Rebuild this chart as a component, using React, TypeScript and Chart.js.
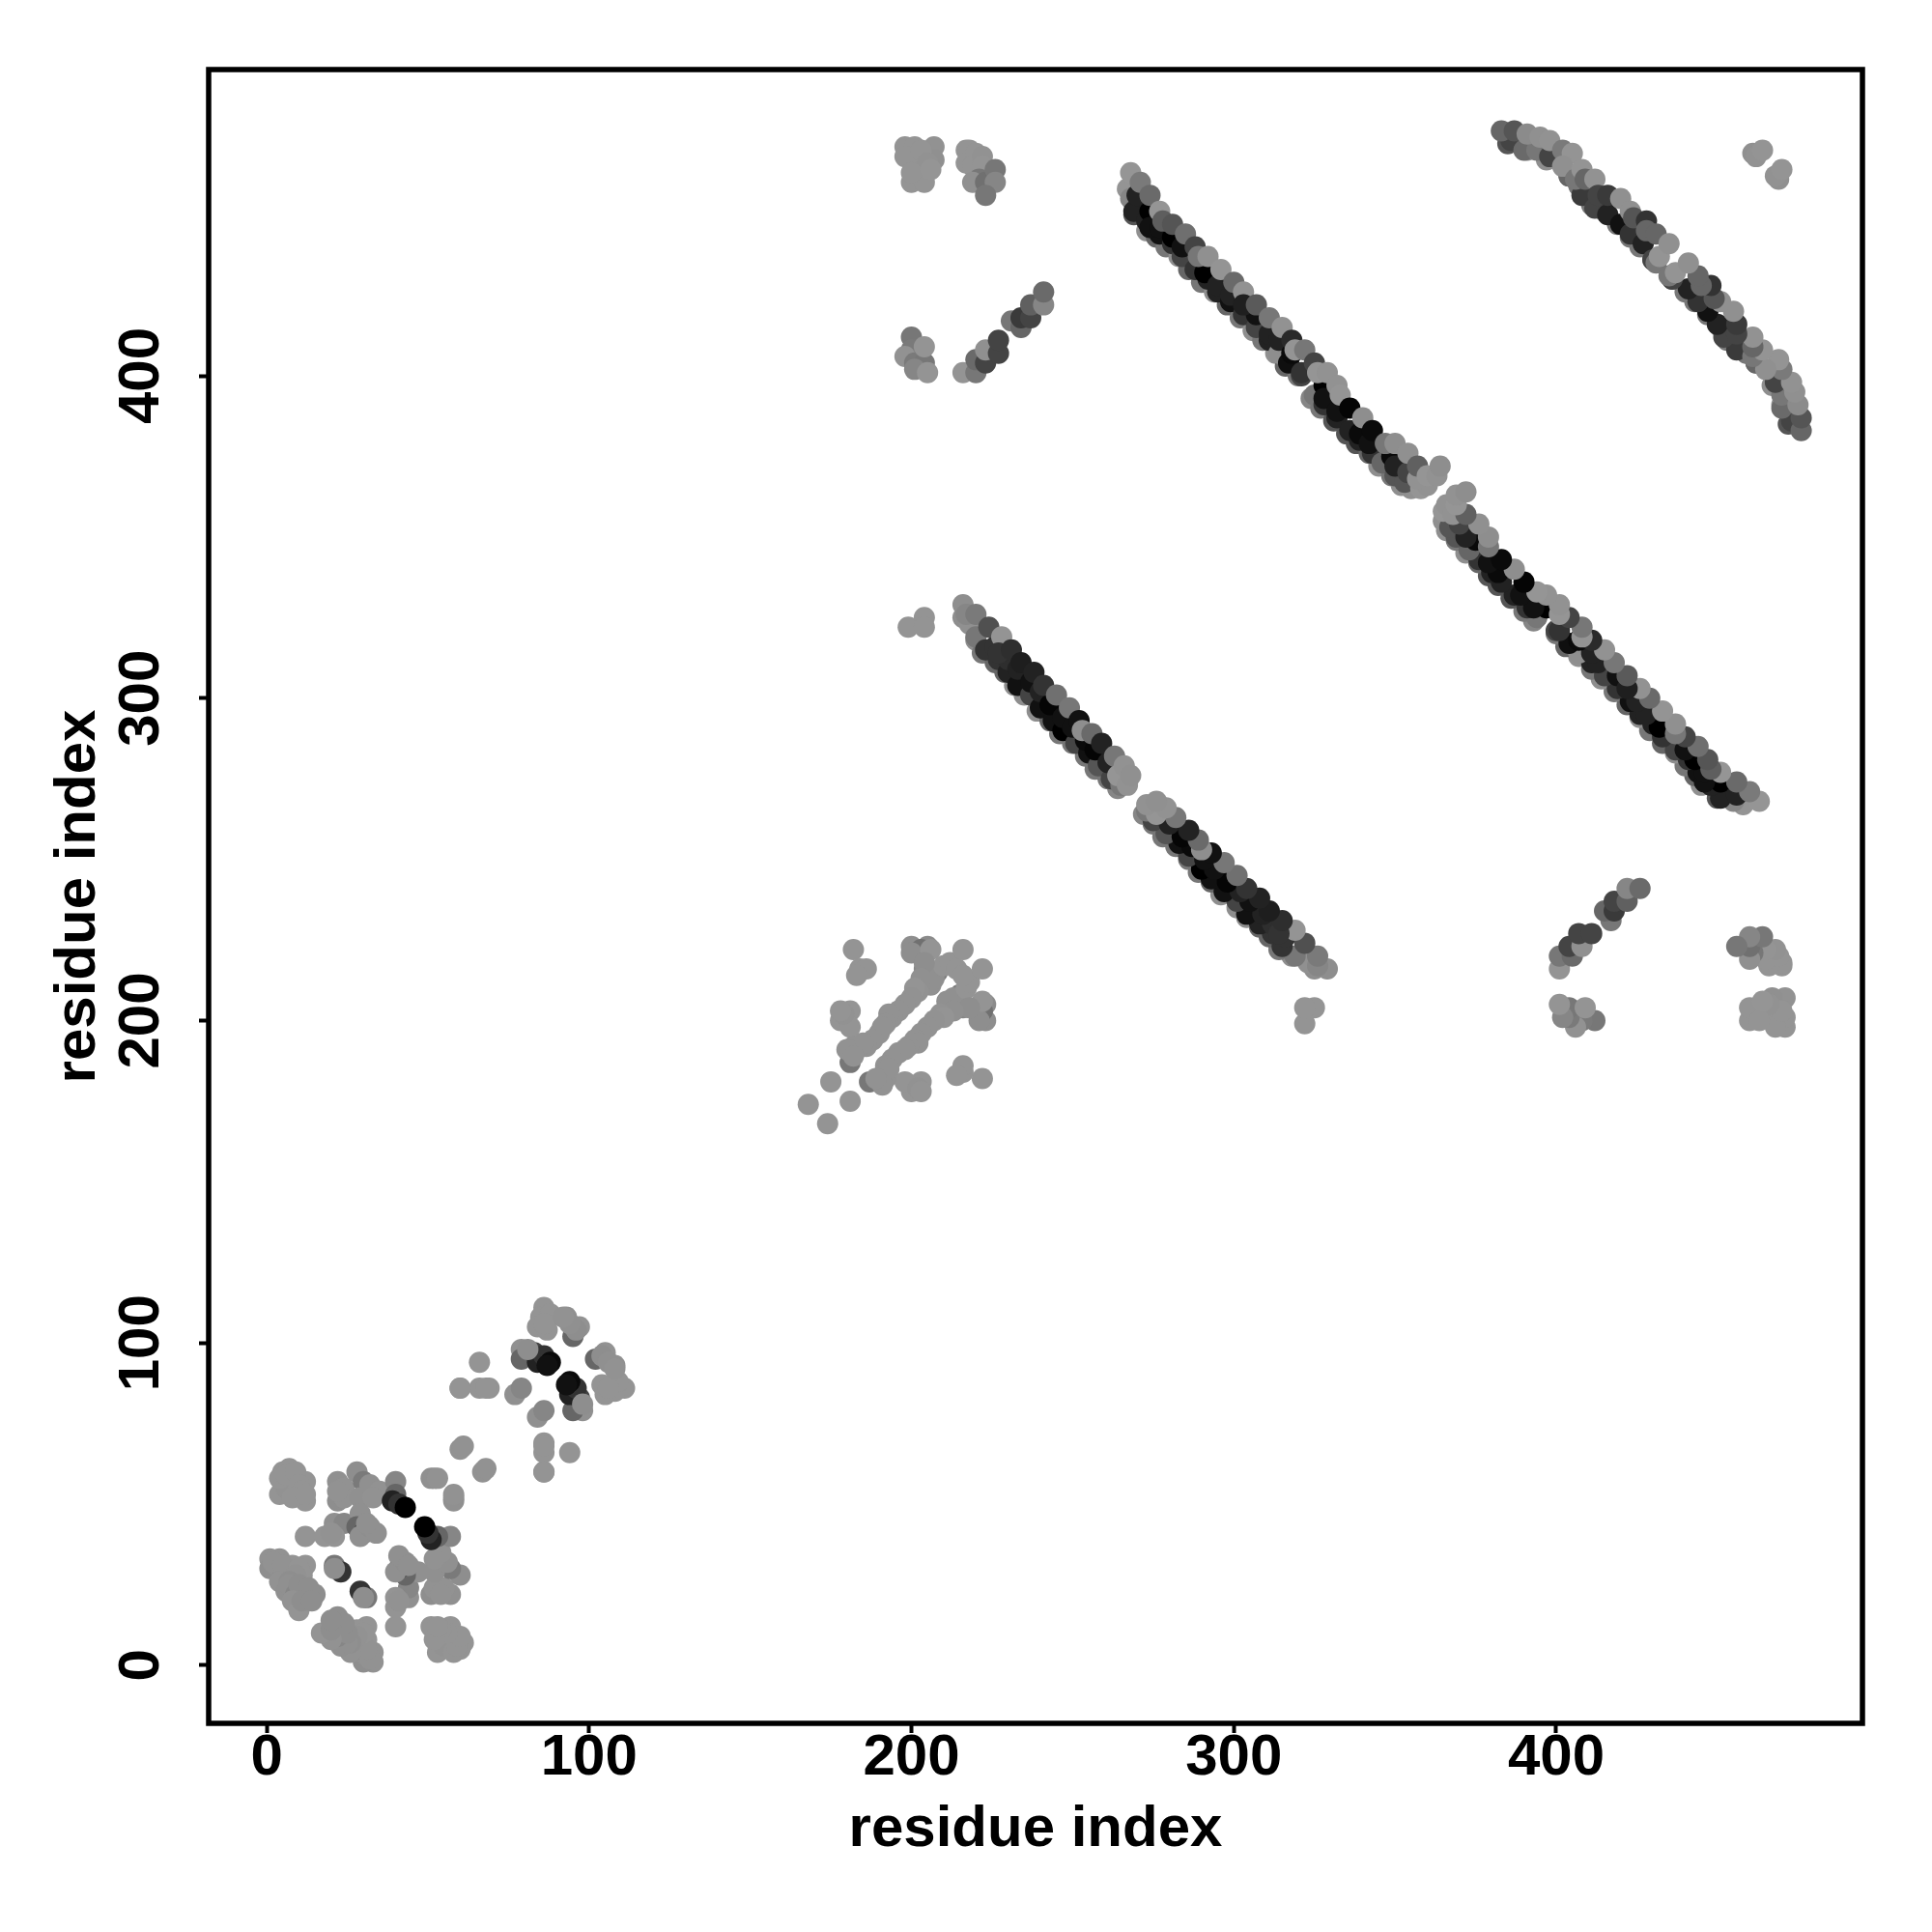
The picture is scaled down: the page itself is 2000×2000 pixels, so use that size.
import React, { useEffect, useRef } from "react";
import { Chart, registerables } from "chart.js";

Chart.register(...registerables);

type Contact = [number, number, number];

const tickValues = [0, 100, 200, 300, 400];
const axisLabel = "residue index";

// Contacts are [i, j, grey level]; every contact is plotted at (i, j) and (j, i).
const smallBlockA: Contact[] = [
  [5,60,0x8e],[7,61,0x8e],[4,53,0x8e],[12,57,0x8e],[12,51,0x8e],[8,57,0x8a],[6,55,0x8c],[9,53,0x8e],
  [4,58,0x8e],[6,59,0x8e],[9,60,0x8e],[10,56,0x8e],[11,54,0x8e],[8,52,0x8e],[12,53,0x8e],
  [22,57,0x8a],[22,51,0x88],[24,55,0x8c],[24,52,0x8c],[22,54,0x8c],[28,60,0x88],[30,57,0x7a],[29,52,0x8a],[32,56,0x8a],[35,54,0x8c],[33,52,0x8c],
  [40,57,0x80],[40,53,0x66],[39,51,0x22],[41,50,0x33],[43,49,0x00],
  [21,44,0x8a],[24,44,0x80],[12,40,0x8e],[18,40,0x8e],[21,40,0x8e],[20,41,0x8c],
  [29,47,0x8a],[28,43,0x66],[30,41,0x44],[29,40,0x8a],[32,43,0x88],[34,41,0x8a],[31,44,0x8a],
  [1,33,0x8c],[4,33,0x8c],[8,31,0x8e],[12,31,0x8e],[1,30,0x88],[3,31,0x8c],[5,28,0x80],[11,28,0x8e],[7,29,0x8c],
  [2,32,0x8c],[5,31,0x8c],[10,30,0x8e],[9,28,0x8c],[4,26,0x8c],[7,26,0x88],
  [6,23,0x8a],[7,25,0x8a],[9,22,0x80],[12,22,0x70],[15,22,0x88],[10,25,0x88],[13,24,0x88],[8,20,0x8c],[10,17,0x8e],[11,20,0x88],[14,20,0x88],
  [21,31,0x77],[23,29,0x33],[21,30,0x88],
  [52,58,0x8c],[60,67,0x8c],[61,68,0x8c],[51,58,0x8a],[53,58,0x8c],
];

const smallBlockB: Contact[] = [
  [86,111,0x8e],[85,108,0x8e],[84,105,0x8e],[87,104,0x8e],[88,109,0x8e],[86,106,0x8e],
  [93,108,0x8a],[97,105,0x8c],[95,102,0x66],[96,104,0x88],[94,106,0x8a],[92,108,0x8c],
  [79,98,0x8a],[79,95,0x66],[83,97,0x44],[84,94,0x22],[86,96,0x33],[88,94,0x0a],[87,93,0x11],[81,98,0x88],
  [66,94,0x8e],[60,86,0x8e],[66,86,0x8e],[69,86,0x8e],[68,86,0x8e],
  [77,84,0x8a],[79,86,0x80],[60,86,0x8e],
];

const midBlock: Contact[] = [
  [168,174,0x8e],[175,181,0x8e],
  [182,222,0x8e],[184,216,0x8e],[186,216,0x8e],[183,214,0x8e],[181,203,0x8e],[178,200,0x8e],[181,198,0x8e],[179,202,0x8c],[178,203,0x8e],
  [200,223,0x88],[205,223,0x85],[203,222,0x70],[200,221,0x88],[206,222,0x8e],
  [204,216,0x80],[208,215,0x7a],[204,212,0x88],[206,211,0x8a],[207,213,0x8a],[210,217,0x8e],[212,218,0x8e],[214,216,0x8e],[216,222,0x8e],
  [204,218,0x88],[203,213,0x8a],[202,209,0x8c],
  [201,210,0x8e],[200,207,0x8c],[198,205,0x8c],[196,203,0x8c],[194,201,0x8c],[193,202,0x8c],[192,199,0x8c],[190,196,0x8c],[191,198,0x8c],[188,194,0x8c],[186,192,0x8c],
  [182,192,0x8c],[183,191,0x8c],[185,193,0x8c],[181,187,0x77],[180,191,0x8c],[182,189,0x8c],
];

const sidePatches: Contact[] = [
  [199,322,0x8e],[204,325,0x8e],[204,322,0x8e],
  [203,465,0x7a],[198,471,0x8e],[201,471,0x8e],[207,471,0x8c],[207,467,0x8a],[200,467,0x8e],[198,468,0x8e],
  [203,470,0x8e],[202,463,0x8e],[205,466,0x8c],[200,460,0x8e],[204,460,0x8e],[200,463,0x8e],[206,464,0x8f],
  [217,470,0x8e],[218,470,0x8e],[217,466,0x8e],[220,469,0x8e],[219,465,0x8e],[222,468,0x8c],[222,465,0x8e],[221,461,0x77],[219,460,0x8a],
  [223,460,0x70],[226,464,0x77],[226,460,0x80],[223,456,0x77],
  [200,412,0x77],[200,408,0x7a],[198,406,0x8c],[201,404,0x7a],[204,404,0x77],[201,402,0x80],[204,409,0x8e],[205,401,0x8e],
  [216,401,0x8e],[220,401,0x77],[220,405,0x6a],[223,404,0x44],[223,408,0x8a],[227,407,0x44],[227,411,0x44],
  [231,417,0x77],[234,415,0x66],[234,418,0x3a],[237,418,0x44],[237,422,0x60],[241,422,0x80],[241,426,0x6a],
  [461,469,0x8a],[462,468,0x8c],[464,470,0x8e],
];

const strandOneRim: Contact[] = [
  [216,325,0x88],[218,323,0x8a],[220,318,0x88],[222,314,0x77],[226,311,0x66],[229,308,0x66],[232,304,0x88],
  [235,301,0x88],[239,296,0x88],[243,293,0x66],[246,289,0x77],[250,286,0x77],[254,282,0x77],[257,278,0x77],[261,275,0x77],[264,272,0x80],
];
const strandOneCore: Contact[] = [
  [220,319,0x77],[223,315,0x33],[227,312,0x33],[230,308,0x22],[233,304,0x11],[237,301,0x44],[240,297,0x11],
  [244,293,0x11],[247,290,0x00],[251,286,0x44],[255,283,0x11],[258,279,0x55],[262,275,0x44],[265,273,0x77],
  [226,316,0x33],[230,312,0x2e],[233,309,0x22],[237,305,0x11],[240,302,0x22],[243,298,0x05],[247,294,0x11],[250,291,0x11],[254,287,0x0a],[257,284,0x05],[261,280,0x22],
];
const strandOneTop: Contact[] = [
  [216,329,0x88],[217,326,0x80],[220,326,0x7a],[224,322,0x50],[228,319,0x8e],[227,314,0x33],[231,315,0x2e],[234,311,0x1e],
  [238,308,0x22],[241,304,0x33],[245,301,0x70],[249,297,0x77],[252,293,0x11],[253,290,0x88],[256,289,0x6a],[259,286,0x22],
  [263,282,0x77],[264,276,0x8f],[266,279,0x8c],[267,273,0x8c],[268,276,0x8a],
];

const strandTwoRim: Contact[] = [
  [267,458,0x8e],[268,455,0x80],[269,450,0x55],[273,445,0x8a],[276,443,0x66],[279,440,0x77],[283,437,0x88],[286,433,0x66],
  [290,429,0x77],[294,426,0x88],[298,422,0x66],[302,418,0x77],[306,414,0x88],[309,411,0x77],[313,407,0x8a],[316,403,0x66],
  [320,400,0x77],[324,393,0x80],[327,390,0x77],[331,386,0x55],[335,382,0x55],[338,379,0x55],[342,376,0x66],[345,372,0x88],[349,369,0x77],[352,366,0x88],
  [355,365,0x8a],
];
const strandTwoCore: Contact[] = [
  [269,451,0x22],[273,448,0x22],[277,444,0x11],[281,441,0x33],[284,437,0x44],[288,433,0x33],[292,430,0x22],[295,426,0x22],
  [299,423,0x11],[303,419,0x33],[307,415,0x44],[311,411,0x22],[314,407,0x88],[317,404,0x0f],[321,400,0x44],[325,394,0x77],
  [328,391,0x33],[332,387,0x22],[336,383,0x22],[339,380,0x22],[343,376,0x33],[346,373,0x66],[350,369,0x55],[353,367,0x55],
  [270,456,0x22],[274,451,0x00],[274,446,0x11],[277,446,0x11],[281,443,0x00],[284,440,0x11],[291,432,0x00],[295,428,0x22],
  [299,425,0x22],[307,419,0x11],[311,413,0x22],[314,411,0x22],[318,407,0x0a],[321,401,0x33],[328,397,0x00],[328,393,0x11],
  [332,389,0x11],[339,382,0x0a],[342,379,0x11],[349,375,0x0a],[350,372,0x22],[354,370,0x44],
  [358,365,0x8f],[360,366,0x8c],[357,368,0x8c],
];
const strandTwoTop: Contact[] = [
  [268,463,0x8f],[271,460,0x7a],[274,456,0x6a],[277,451,0x8f],[278,448,0x5e],[281,447,0x55],[285,444,0x6f],[288,440,0x44],
  [289,437,0x77],[292,437,0x8a],[296,433,0x8e],[300,429,0x6a],[303,426,0x8c],[303,422,0x1f],[307,422,0x5a],[311,418,0x77],
  [315,415,0x8c],[318,411,0x2a],[319,408,0x8e],[322,408,0x77],[325,404,0x44],[326,401,0x8f],[329,401,0x8c],[332,397,0x8c],
  [333,394,0x8f],[336,390,0x05],[340,387,0x88],[343,383,0x0a],[347,379,0x77],[350,379,0x88],[354,376,0x8a],[357,372,0x60],
  [360,369,0x8f],[363,369,0x8c],[364,372,0x88],
];

const strandThreeRim: Contact[] = [
  [385,472,0x55],[391,470,0x88],[397,467,0x88],[404,462,0x77],[407,459,0x77],[411,453,0x77],[415,451,0x88],[419,447,0x77],
  [423,443,0x77],[426,440,0x77],[430,436,0x77],
];
const strandThreeCore: Contact[] = [
  [386,473,0x44],[390,470,0x6a],[394,470,0x77],[398,468,0x44],[404,462,0x66],[408,456,0x3a],[412,452,0x44],[416,450,0x22],
  [420,447,0x11],[423,444,0x33],[427,441,0x22],[430,436,0x44],[431,435,0x77],
];
const strandThreeTop: Contact[] = [
  [383,476,0x66],[387,476,0x55],[391,475,0x85],[395,474,0x8a],[398,473,0x8c],[402,470,0x7a],[405,469,0x8e],[402,465,0x8a],
  [406,461,0x77],[408,464,0x8e],[409,461,0x66],[412,461,0x8c],[413,456,0x44],[416,456,0x3a],[420,455,0x8a],[423,451,0x8a],
  [424,449,0x55],[428,448,0x33],[428,445,0x66],[431,444,0x66],[432,437,0x8e],[435,441,0x8a],
];

const allContacts: Contact[] = [
  ...smallBlockA, ...smallBlockB, ...midBlock, ...sidePatches,
  ...strandOneRim, ...strandOneCore, ...strandOneTop,
  ...strandTwoRim, ...strandTwoCore, ...strandTwoTop,
  ...strandThreeRim, ...strandThreeCore, ...strandThreeTop,
];

const points = allContacts.flatMap(([i, j]) => [{ x: i, y: j }, { x: j, y: i }]);
const shades = allContacts.flatMap(([, , g]) => {
  const level = g >= 0x80 ? g + 6 : g;
  const c = `rgb(${level},${level},${level})`;
  return [c, c];
});

const frame = {
  id: "frame",
  afterDatasetsDraw(chart: any) {
    const { ctx, chartArea: a } = chart;
    ctx.save();
    ctx.strokeStyle = "#000";
    ctx.lineWidth = 5.5;
    ctx.strokeRect(a.left, a.top, a.right - a.left, a.bottom - a.top);
    ctx.restore();
  },
};

const font = { family: "'Liberation Sans', Arial, sans-serif", size: 60, weight: "bold" as const };

function axis(position: "bottom" | "left") {
  const vertical = position === "left";
  return {
    type: "linear" as const,
    position,
    min: -18,
    max: 495,
    border: { display: false },
    grid: { drawOnChartArea: false, drawTicks: true, tickLength: 10, tickWidth: 4, tickColor: "#000" },
    afterBuildTicks(scale: any) {
      scale.ticks = tickValues.map((value) => ({ value }));
    },
    afterFit(scale: any) {
      if (vertical) scale.width = 216;
      else scale.height = 216;
    },
    ticks: {
      color: "#000",
      font,
      padding: vertical ? 8 : -10,
      autoSkip: false,
      minRotation: vertical ? 90 : 0,
      maxRotation: vertical ? 90 : 0,
      crossAlign: vertical ? ("center" as const) : ("near" as const),
    },
    title: {
      display: true,
      text: axisLabel,
      color: "#000",
      font,
      padding: vertical ? { top: 45, bottom: 0 } : { top: 0, bottom: 70 },
    },
  };
}

export default function App() {
  const ref = useRef<HTMLCanvasElement>(null);
  useEffect(() => {
    if (!ref.current) return;
    const chart = new Chart(ref.current, {
      type: "scatter",
      data: {
        datasets: [
          {
            data: points,
            pointBackgroundColor: shades,
            pointBorderWidth: 0,
            pointRadius: 11,
            pointHoverRadius: 11,
          },
        ],
      },
      options: {
        responsive: false,
        animation: false,
        layout: { padding: { top: 72, right: 72, left: 0, bottom: 0 } },
        plugins: { legend: { display: false }, tooltip: { enabled: false } },
        scales: { x: axis("bottom"), y: axis("left") },
      },
      plugins: [frame],
    } as any);
    return () => chart.destroy();
  }, []);
  return (
    <canvas
      ref={ref}
      width={2000}
      height={2000}
      style={{ position: "absolute", left: 0, top: 0, width: 2000, height: 2000, background: "#fff" }}
    />
  );
}
